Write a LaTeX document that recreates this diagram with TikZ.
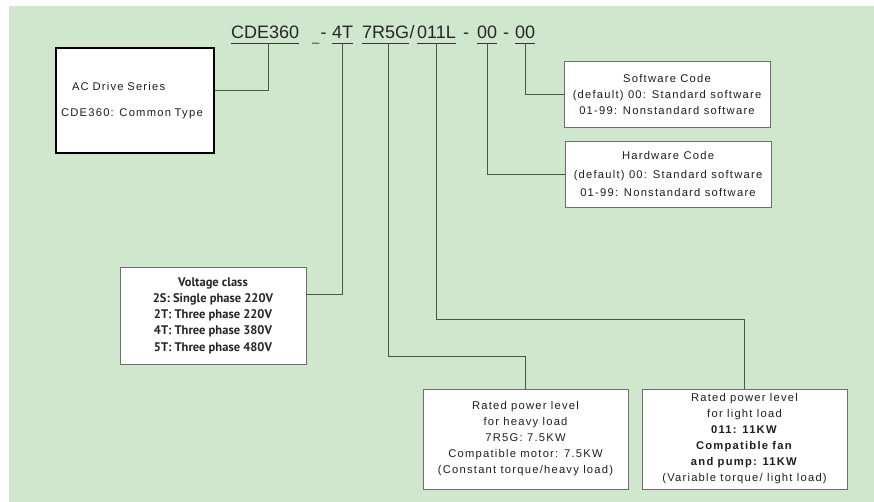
\documentclass[tikz,border=0pt]{standalone}
\usepackage{fontspec}
\setmainfont{Liberation Sans}
\newfontfamily\codefont{Liberation Sans}
\newfontfamily\boxfont[LetterSpace=11]{Liberation Sans}
\newfontfamily\voltfont{PT Sans}
\usepackage{tikz}
\usetikzlibrary{positioning}
\definecolor{bggreen}{HTML}{CFE7CC}
\definecolor{wirec}{HTML}{4A564A}
\definecolor{framec}{HTML}{6E6E6E}
\definecolor{ink}{HTML}{1E1E1E}

\begin{document}
\begin{tikzpicture}[x=1pt,y=-1pt,
  code/.style={font=\codefont\fontsize{18}{20}\selectfont,text=black!85,
    inner xsep=0pt,inner ysep=4pt,text height=13pt,text depth=0pt,anchor=base west},
  info/.style={draw=framec,fill=white,line width=0.9pt,
    font=\boxfont\fontsize{11.2}{16}\selectfont,text=ink,align=center,inner sep=0pt},
  wire/.style={draw=wirec,line width=0.9pt}]
  % background
  \fill[white] (0,0) rectangle (874,502);
  \fill[bggreen] (9,6) rectangle (874,502);
  % model code
  \node[code] (cde) at (231,39) {CDE360};
  \node[code,font=\codefont\fontsize{13}{14}\selectfont] (gap) at (312,42) {\_};
  \node[code] (dash1) at (320.5,39) {-};
  \node[code] (v4T) at (332,39) {4T};
  \node[code] (p7R5G) at (362,39) {7R5G};
  \node[code] (slash) at (409.5,39) {/};
  \node[code] (p011L) at (417,39) {011L};
  \node[code] (dash2) at (463,39) {-};
  \node[code] (hw00) at (477,39) {00};
  \node[code] (dash3) at (503,39) {-};
  \node[code] (sw00) at (515,39) {00};
  \foreach \n in {cde,v4T,p7R5G,p011L,hw00,sw00}
    \draw[black!80,line width=0.8pt] (\n.south west) -- (\n.south east);
  % explanation boxes
  \node[info,draw=black,line width=1.1pt,minimum width=158pt,minimum height=105pt,
    text width=148pt,align=left] (series) at (135,100.5)
    {\hspace*{11pt}AC Drive Series\\[10pt]CDE360: Common Type};
  \node[info,minimum width=206pt,minimum height=66pt] (sw) at (667,94)
    {Software Code\\(default) 00: Standard software\\01-99: Nonstandard software};
  \node[info,minimum width=206pt,minimum height=66pt] (hw) at (668,174)
    {Hardware Code\\[2.5pt](default) 00: Standard software\\[2.5pt]01-99: Nonstandard software};
  \node[info,font=\voltfont\bfseries\fontsize{12.5}{16.3}\selectfont,text=black!85,
    minimum width=186pt,minimum height=97pt] (volt) at (213,315.5)
    {Voltage class\\2S: Single phase 220V\\2T: Three phase 220V\\4T: Three phase 380V\\5T: Three phase 480V};
  \node[info,minimum width=205pt,minimum height=100pt] (heavy) at (525.5,439)
    {Rated power level\\for heavy load\\7R5G: 7.5KW\\Compatible motor: 7.5KW\\(Constant torque/heavy load)};
  \node[info,minimum width=205pt,minimum height=100pt] (light) at (744.5,439)
    {Rated power level\\for light load\\\textbf{011: 11KW}\\\textbf{Compatible fan}\\\textbf{and pump: 11KW}\\(Variable torque/ light load)};
  % connectors
  \draw[wire] ([xshift=3pt]cde.south) |- (series.east |- 0,90);
  \draw[wire] (v4T.south) |- (volt.east |- 0,294);
  \draw[wire] ([xshift=3pt]p7R5G.south) |- (heavy.north |- 0,356) -- (heavy.north);
  \draw[wire] (p011L.south) |- (light.north |- 0,319) -- (light.north);
  \draw[wire] (hw00.south) |- (hw.west);
  \draw[wire] (sw00.south) |- (sw.west);
\end{tikzpicture}
\end{document}
